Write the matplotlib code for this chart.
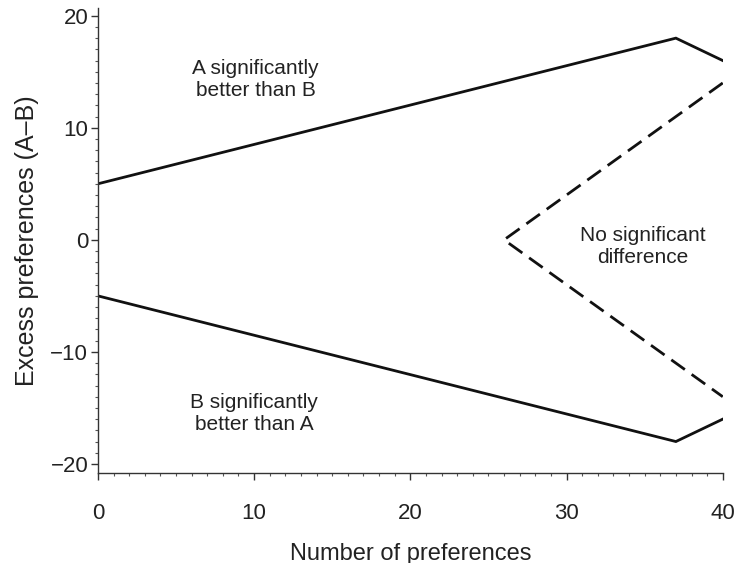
import matplotlib
matplotlib.use("Agg")
import matplotlib.pyplot as plt
from matplotlib.ticker import MultipleLocator

plt.rcParams["font.family"] = ["Liberation Sans", "DejaVu Sans"]

# Límites de significación (exceso de preferencias A-B frente a nº de preferencias)
x_upper = [0, 37, 40]
y_upper = [5, 18, 16]
x_lower = [0, 37, 40]
y_lower = [-5, -18, -16]
x_dash = [40, 26, 40]
y_dash = [14, 0, -14]

xticks = [0, 10, 20, 30, 40]
yticks = [-20, -10, 0, 10, 20]

fig = plt.figure(figsize=(7.36, 5.63), dpi=100)
ax = fig.add_axes([0.133, 0.160, 0.849, 0.826])

ax.plot(x_upper, y_upper, color="#111111", lw=2.0, solid_joinstyle="miter")
ax.plot(x_lower, y_lower, color="#111111", lw=2.0, solid_joinstyle="miter")
ax.plot(x_dash, y_dash, color="#111111", lw=2.0, dashes=(6, 3))

txt = dict(ha="center", va="center", fontsize=15, color="#222222", linespacing=1.15)
ax.text(10.1, 14.3, "A significantly\nbetter than B", **txt)
ax.text(10.0, -15.5, "B significantly\nbetter than A", **txt)
ax.text(34.9, -0.6, "No significant\ndifference", **txt)

ax.set_xlim(0, 40)
ax.set_ylim(-20.8, 20.7)
ax.set_xticks(xticks)
ax.set_yticks(yticks)
ax.set_yticklabels(["\u221220", "\u221210", "0", "10", "20"])
ax.xaxis.set_minor_locator(MultipleLocator(1))
ax.yaxis.set_minor_locator(MultipleLocator(1))

for side in ["top", "right"]:
    ax.spines[side].set_visible(False)
for side in ["left", "bottom"]:
    ax.spines[side].set_color("#333333")
    ax.spines[side].set_linewidth(1.0)

ax.tick_params(which="major", direction="out", length=5, width=1.0,
               color="#333333", labelsize=16, labelcolor="#222222", pad=2)
ax.tick_params(which="minor", direction="out", length=2.5, width=0.8,
               color="#555555")
ax.tick_params(axis="x", which="major", pad=17)

ax.set_xlabel("Number of preferences", fontsize=17, color="#222222", labelpad=13)
ax.set_ylabel("Excess preferences (A\u2013B)", fontsize=18, color="#222222", labelpad=8)

fig.savefig("out.png", dpi=100, facecolor="white")
